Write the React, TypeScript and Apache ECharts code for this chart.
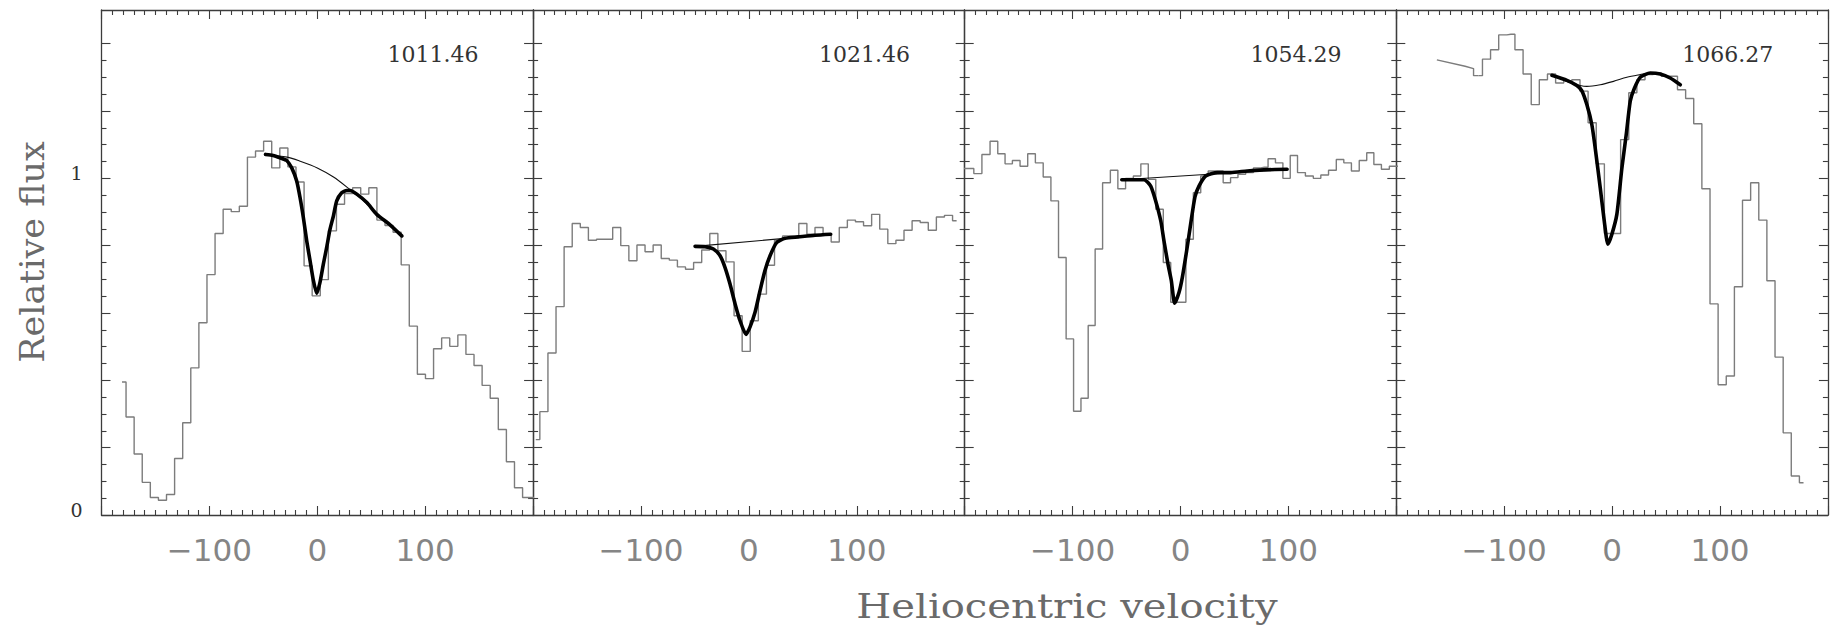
import React, { useEffect, useRef } from "react";
import * as echarts from "echarts";

// ---------------- data ----------------
const panelTitles = ["1011.46", "1021.46", "1054.29", "1066.27"];
const xAxisTitle = "Heliocentric velocity";
const yAxisTitle = "Relative flux";
const yMajorTicks = [0, 0.2, 0.4, 0.6, 0.8, 1.0, 1.2, 1.4];
const yMinorTicks = [0.05, 0.1, 0.15, 0.25, 0.3, 0.35, 0.45, 0.5, 0.55, 0.65, 0.7, 0.75, 0.85, 0.9, 0.95, 1.05, 1.1, 1.15, 1.25, 1.3, 1.35];
const yLabelValues = [0, 1];

// Panel 1 (1011.46)
const p1Vel = [-181, -173.5, -166, -158.5, -151, -143.5, -136, -128.5, -121, -113.5, -106, -98.5, -91, -83.5, -76, -68.5, -61, -53.5, -46, -38.5, -31, -23.5, -16, -8.5, -1, 6.5, 14, 21.5, 29, 36.5, 44, 51.5, 59, 66.5, 74, 81.5, 89, 96.5, 104, 111.5, 119, 126.5, 134, 141.5, 149, 156.5, 164, 171.5, 179, 186.5, 194, 201.5];
const p1Flux = [0.395, 0.291, 0.181, 0.097, 0.052, 0.044, 0.061, 0.168, 0.274, 0.437, 0.571, 0.714, 0.836, 0.908, 0.901, 0.917, 1.063, 1.081, 1.110, 1.031, 1.090, 1.034, 0.989, 0.740, 0.651, 0.699, 0.844, 0.923, 0.955, 0.972, 0.953, 0.972, 0.876, 0.86, 0.84, 0.743, 0.561, 0.418, 0.405, 0.494, 0.526, 0.501, 0.535, 0.477, 0.444, 0.385, 0.347, 0.254, 0.158, 0.081, 0.052, 0.052];
const p1ContVel = [-48, -28, -16, 0, 15, 29, 43, 55, 67, 78];
const p1Cont = [1.071, 1.063, 1.051, 1.031, 1.004, 0.970, 0.933, 0.895, 0.862, 0.829];
const p1FitVel = [-48, -41, -34.5, -28.4, -23.7, -19.1, -16, -12.9, -9.8, -6.7, -3.6, -0.5, 2.5, 5.6, 8.7, 11.8, 14.9, 18, 22.6, 27.2, 30.4, 36.6, 45.9, 55.1, 67.4, 78.3];
const p1Fit = [1.071, 1.068, 1.061, 1.053, 1.031, 0.992, 0.943, 0.883, 0.814, 0.755, 0.696, 0.658, 0.691, 0.745, 0.795, 0.849, 0.888, 0.933, 0.957, 0.964, 0.964, 0.953, 0.928, 0.893, 0.862, 0.829];

// Panel 2 (1021.46)
const p2Vel = [-197.5, -190, -182.5, -175, -167.5, -160, -152.5, -145, -137.5, -130, -122.5, -115, -107.5, -100, -92.5, -85, -77.5, -70, -62.5, -55, -47.5, -40, -32.5, -25, -17.5, -10, -2.5, 5, 12.5, 20, 27.5, 35, 42.5, 50, 57.5, 65, 72.5, 80, 87.5, 95, 102.5, 110, 117.5, 125, 132.5, 140, 147.5, 155, 162.5, 170, 177.5, 185, 192.5];
const p2Flux = [0.224, 0.307, 0.481, 0.619, 0.797, 0.866, 0.854, 0.816, 0.819, 0.819, 0.854, 0.800, 0.755, 0.802, 0.782, 0.802, 0.762, 0.757, 0.737, 0.730, 0.750, 0.787, 0.836, 0.785, 0.752, 0.592, 0.486, 0.577, 0.656, 0.742, 0.816, 0.829, 0.829, 0.866, 0.834, 0.854, 0.834, 0.811, 0.854, 0.876, 0.871, 0.859, 0.893, 0.849, 0.806, 0.816, 0.846, 0.874, 0.869, 0.846, 0.885, 0.890, 0.874];
const p2ContVel = [-50, 76];
const p2Cont = [0.798, 0.834];
const p2FitVel = [-49.9, -40.6, -32.9, -26.7, -22.1, -17.5, -12.8, -8.2, -2.7, 1.0, 5.7, 10.3, 14.9, 19.6, 25.7, 33.5, 45.8, 61.3, 75.8];
const p2Fit = [0.798, 0.797, 0.790, 0.770, 0.735, 0.686, 0.627, 0.577, 0.536, 0.558, 0.602, 0.666, 0.726, 0.770, 0.809, 0.822, 0.826, 0.831, 0.834];

// Panel 3 (1054.29)
const p3Vel = [-202.3, -195.2, -187.9, -180.2, -172.8, -165.9, -159.3, -152.3, -145.1, -138.1, -130.9, -123.6, -116.6, -109.5, -102.5, -95.7, -88.8, -82.3, -75.9, -68.5, -61.5, -54.6, -47.2, -40.2, -33.3, -26.4, -19.4, -12.5, -5.6, 1.5, 8.5, 15.3, 22.2, 29.1, 36.1, 43.0, 49.8, 56.7, 64.1, 71.1, 77.7, 84.6, 91.4, 98.4, 105.0, 111.9, 119.6, 126.6, 133.5, 140.9, 147.9, 154.8, 162.0, 169.3, 175.9, 182.5, 189.9, 197.2, 204.3];
const p3Flux = [1.029, 1.029, 1.014, 1.071, 1.110, 1.073, 1.043, 1.053, 1.036, 1.073, 1.046, 1.004, 0.933, 0.765, 0.523, 0.308, 0.347, 0.563, 0.790, 0.987, 1.024, 0.969, 1.000, 1.007, 1.043, 0.997, 0.908, 0.750, 0.632, 0.632, 0.819, 0.957, 1.007, 1.022, 1.022, 0.987, 1.002, 1.012, 1.017, 1.031, 1.033, 1.058, 1.046, 1.000, 1.068, 1.017, 1.007, 1.000, 1.010, 1.024, 1.056, 1.046, 1.022, 1.053, 1.076, 1.041, 1.027, 1.036, 1.036];
const p3ContVel = [-54.4, 98.8];
const p3Cont = [0.996, 1.027];
const p3FitVel = [-54.4, -33.8, -27.6, -23.0, -18.3, -15.3, -11.6, -8.5, -5.4, -1.4, 1.7, 5.7, 9.4, 13.4, 17.1, 23.3, 34.1, 46.4, 61.8, 77.2, 98.8];
const p3Fit = [0.996, 0.996, 0.977, 0.933, 0.874, 0.814, 0.745, 0.696, 0.629, 0.661, 0.706, 0.785, 0.864, 0.945, 0.977, 1.007, 1.017, 1.017, 1.022, 1.025, 1.027];

// Panel 4 (1066.27)
const p4GapVel = [-162.4, -136.2, -128.4, -128.4, -123.9];
const p4GapFlux = [1.352, 1.333, 1.326, 1.305, 1.305];
const p4Vel = [-123.9, -116.4, -108.9, -101.3, -93.8, -86.3, -78.7, -71.2, -63.7, -56.1, -48.6, -41.1, -33.5, -26, -18.5, -10.9, -3.4, 4.1, 11.7, 19.2, 26.7, 34.3, 41.8, 49.3, 56.8, 64.4, 71.9, 79.4, 87, 94.5, 102, 109.6, 117.1, 124.6, 132.2, 139.7, 147.2, 154.8, 162.3, 169.8, 177.4];
const p4Flux = [1.305, 1.354, 1.382, 1.426, 1.428, 1.382, 1.310, 1.219, 1.293, 1.310, 1.283, 1.290, 1.293, 1.259, 1.165, 1.043, 0.836, 0.836, 1.115, 1.254, 1.293, 1.308, 1.313, 1.303, 1.303, 1.263, 1.237, 1.162, 0.969, 0.627, 0.387, 0.413, 0.678, 0.935, 0.987, 0.876, 0.696, 0.469, 0.244, 0.116, 0.096];
const p4ContVel = [-55.8, -41.9, -29.6, -23.4, -11.0, 1.3, 13.7, 26.1, 35.3, 44.6, 53.9, 63.2];
const p4Cont = [1.306, 1.288, 1.276, 1.273, 1.278, 1.288, 1.300, 1.308, 1.313, 1.310, 1.298, 1.278];
const p4FitVel = [-55.8, -41.9, -32.7, -28.0, -23.4, -18.8, -15.7, -11.0, -7.3, -3.9, -0.2, 4.4, 9.1, 13.1, 16.8, 20.5, 26.1, 35.3, 44.6, 53.9, 63.2];
const p4Fit = [1.306, 1.291, 1.276, 1.260, 1.219, 1.160, 1.091, 0.972, 0.874, 0.804, 0.834, 0.893, 1.031, 1.130, 1.229, 1.266, 1.300, 1.313, 1.310, 1.298, 1.278];

// ---------------- layout / style ----------------
const GRID_LEFT = 101.5;
const GRID_W = 431.6;
const GRID_TOP = 10;
const GRID_H = 505;
const AXIS_COLOR = "#3c3c3c";
const HIST_COLOR = "#7c7c7c";
const SERIF = '"DejaVu Serif", "Liberation Serif", serif';
const SANS = '"DejaVu Sans", "Liberation Sans", sans-serif';

const zip = (xs: number[], ys: number[]) => xs.map((x, i) => [x, ys[i]]);

const panels = [
  { hist: zip(p1Vel, p1Flux), cont: zip(p1ContVel, p1Cont), fit: zip(p1FitVel, p1Fit), gap: null as null | number[][] },
  { hist: zip(p2Vel, p2Flux), cont: zip(p2ContVel, p2Cont), fit: zip(p2FitVel, p2Fit), gap: null as null | number[][] },
  { hist: zip(p3Vel, p3Flux), cont: zip(p3ContVel, p3Cont), fit: zip(p3FitVel, p3Fit), gap: null as null | number[][] },
  { hist: zip(p4Vel, p4Flux), cont: zip(p4ContVel, p4Cont), fit: zip(p4FitVel, p4Fit), gap: zip(p4GapVel, p4GapFlux) },
];

function buildOption() {
  const grids: any[] = [];
  const xAxes: any[] = [];
  const yAxes: any[] = [];
  const series: any[] = [];
  const graphics: any[] = [];

  const lineStyle = { color: AXIS_COLOR, width: 1.3 };
  const tickStyle = { color: AXIS_COLOR, width: 1.1 };

  panels.forEach((p, i) => {
    const left = GRID_LEFT + i * GRID_W;
    grids.push({ left, top: GRID_TOP, width: GRID_W, height: GRID_H });

    const xCommon = {
      type: "value",
      gridIndex: i,
      min: -200,
      max: 200,
      interval: 100,
      splitLine: { show: false },
      axisLine: { show: true, onZero: false, lineStyle },
      axisTick: { show: true, inside: true, length: 9, lineStyle: tickStyle },
      minorTick: { show: true, splitNumber: 10, length: 5, lineStyle: tickStyle },
      minorSplitLine: { show: false },
    };
    xAxes.push({
      ...xCommon,
      position: "bottom",
      axisLabel: {
        show: true,
        showMinLabel: false,
        showMaxLabel: false,
        margin: 19,
        color: "#858585",
        fontFamily: SANS,
        fontSize: 31,
        formatter: (v: number) => (v < 0 ? "\u2212" + Math.abs(v) : String(v)),
      },
    });
    xAxes.push({ ...xCommon, position: "top", axisLabel: { show: false } });

    const yBase = {
      type: "value",
      gridIndex: i,
      min: 0,
      max: 1.5,
      splitLine: { show: false },
    };
    yAxes.push({
      ...yBase,
      position: "left",
      axisLine: { show: true, onZero: false, lineStyle },
      axisTick: { show: true, inside: true, length: 9, customValues: yMajorTicks, lineStyle: tickStyle },
      axisLabel:
        i === 0
          ? {
              show: true,
              customValues: yLabelValues,
              margin: 19,
              color: "#333",
              fontFamily: SERIF,
              fontSize: 19,
              verticalAlign: "bottom",
              lineHeight: 10,
              formatter: (v: number) => String(v),
            }
          : { show: false },
    });
    yAxes.push({
      ...yBase,
      position: "left",
      axisLine: { show: false, onZero: false },
      axisTick: { show: true, inside: true, length: 5, customValues: yMinorTicks, lineStyle: tickStyle },
      axisLabel: { show: false },
    });
    yAxes.push({
      ...yBase,
      position: "right",
      axisLine: { show: true, onZero: false, lineStyle },
      axisTick: { show: true, inside: true, length: 9, customValues: yMajorTicks, lineStyle: tickStyle },
      axisLabel: { show: false },
    });
    yAxes.push({
      ...yBase,
      position: "right",
      axisLine: { show: false, onZero: false },
      axisTick: { show: true, inside: true, length: 5, customValues: yMinorTicks, lineStyle: tickStyle },
      axisLabel: { show: false },
    });

    const xIdx = i * 2;
    const yIdx = i * 4;
    series.push({
      type: "line",
      xAxisIndex: xIdx,
      yAxisIndex: yIdx,
      data: p.hist,
      step: "middle",
      symbol: "none",
      silent: true,
      z: 2,
      lineStyle: { color: HIST_COLOR, width: 1.4 },
    });
    if (p.gap) {
      series.push({
        type: "line",
        xAxisIndex: xIdx,
        yAxisIndex: yIdx,
        data: p.gap,
        symbol: "none",
        silent: true,
        z: 2,
        lineStyle: { color: HIST_COLOR, width: 1.4 },
      });
    }
    series.push({
      type: "line",
      xAxisIndex: xIdx,
      yAxisIndex: yIdx,
      data: p.cont,
      symbol: "none",
      smooth: 0.3,
      silent: true,
      z: 3,
      lineStyle: { color: "#111", width: 1.1 },
    });
    series.push({
      type: "line",
      xAxisIndex: xIdx,
      yAxisIndex: yIdx,
      data: p.fit,
      symbol: "none",
      smooth: 0.2,
      silent: true,
      z: 4,
      lineStyle: { color: "#000", width: 3.6, join: "round", cap: "round" },
    });

    graphics.push({
      type: "text",
      x: left + GRID_W - 54.7,
      y: 54,
      silent: true,
      style: {
        text: panelTitles[i],
        fill: "#333",
        fontFamily: SERIF,
        fontSize: 22,
        align: "right",
        verticalAlign: "middle",
      },
    });
  });

  graphics.push({
    type: "text",
    x: 1067,
    y: 606,
    scaleX: 1.18,
    silent: true,
    style: {
      text: xAxisTitle,
      fill: "#6a6a6a",
      fontFamily: SERIF,
      fontSize: 34,
      align: "center",
      verticalAlign: "middle",
    },
  });
  graphics.push({
    type: "text",
    x: 32,
    y: 252,
    rotation: Math.PI / 2,
    scaleX: 1.06,
    silent: true,
    style: {
      text: yAxisTitle,
      fill: "#6a6a6a",
      fontFamily: SERIF,
      fontSize: 33,
      align: "center",
      verticalAlign: "middle",
    },
  });

  return {
    animation: false,
    backgroundColor: "#ffffff",
    grid: grids,
    xAxis: xAxes,
    yAxis: yAxes,
    series,
    graphic: graphics,
  };
}

export default function App() {
  const ref = useRef<HTMLDivElement>(null);
  useEffect(() => {
    if (!ref.current) return;
    const chart = echarts.init(ref.current, undefined, { renderer: "svg" });
    chart.setOption(buildOption() as any);
    return () => chart.dispose();
  }, []);
  return (
    <div
      ref={ref}
      style={{ position: "absolute", left: 0, top: 0, width: "1839px", height: "626px", background: "#fff" }}
    />
  );
}
